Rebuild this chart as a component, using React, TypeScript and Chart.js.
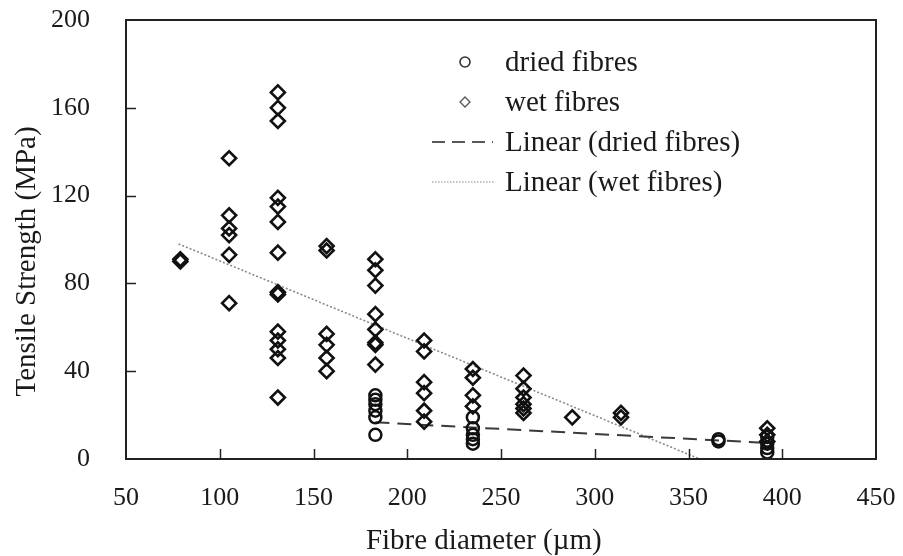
import React, { useEffect, useRef } from "react";
import { Chart, registerables } from "chart.js";

Chart.register(...registerables);

// ---- data ----
const wetDiameters = [79, 105, 131, 157, 183, 209, 235, 262, 288, 314, 392];
const wetStrength = [
  [91, 90],
  [137, 111, 105, 102, 93, 71],
  [167, 160, 154, 119, 115, 108, 94, 76, 75, 58, 54, 50, 46, 28],
  [97, 95, 57, 52, 46, 40],
  [91, 86, 79, 66, 59, 53, 52, 43],
  [54, 49, 35, 30, 22, 17],
  [41, 37, 29, 24],
  [38, 32, 28, 25, 23, 21],
  [19],
  [21, 19],
  [14, 11, 8],
];
const driedDiameters = [183, 235, 366, 392];
const driedStrength = [
  [29, 27, 25, 22, 19, 11],
  [19, 14, 11, 9, 7],
  [9, 8],
  [10, 7, 5, 3],
];
const driedTrendX = [183, 392];
const driedTrendY = [16.7, 7.3];
const wetTrendX = [78, 356];
const wetTrendY = [98, 0];

const xTicks = [50, 100, 150, 200, 250, 300, 350, 400, 450];
const yTicks = [0, 40, 80, 120, 160, 200];

const legendLabels = ["dried fibres", "wet fibres", "Linear (dried fibres)", "Linear (wet fibres)"];
const xTitle = "Fibre diameter (\u00b5m)";
const yTitle = "Tensile Strength (MPa)";

const toPoints = (xs: number[], ys: number[][]) =>
  xs.flatMap((x, i) => ys[i].map((v) => ({ x, y: v })));
const toLine = (xs: number[], ys: number[]) => xs.map((x, i) => ({ x, y: ys[i] }));

const TEXT_FONT = '29px "Liberation Serif"';
const INK = "#1a1a1a";

const decor = {
  id: "decor",
  afterDraw(chart: any) {
    const { ctx, chartArea } = chart;
    const { left, right, top, bottom } = chartArea;
    const xs = chart.scales.x;
    const ys = chart.scales.y;
    ctx.save();
    // frame
    ctx.strokeStyle = "#222";
    ctx.lineWidth = 2;
    ctx.setLineDash([]);
    ctx.strokeRect(left, top, right - left, bottom - top);
    // inner tick marks
    ctx.lineWidth = 1.5;
    xTicks.slice(1, -1).forEach((t) => {
      const px = Math.round(xs.getPixelForValue(t)) + 0.5;
      ctx.beginPath();
      ctx.moveTo(px, bottom);
      ctx.lineTo(px, bottom - 10);
      ctx.stroke();
    });
    yTicks.slice(1, -1).forEach((t) => {
      const py = Math.round(ys.getPixelForValue(t)) + 0.5;
      ctx.beginPath();
      ctx.moveTo(left, py);
      ctx.lineTo(left + 10, py);
      ctx.stroke();
    });

    // axis titles
    ctx.fillStyle = INK;
    ctx.font = TEXT_FONT;
    ctx.textAlign = "center";
    ctx.textBaseline = "middle";
    ctx.fillText(xTitle, left + (right - left) * 0.477, bottom + 82);
    ctx.save();
    ctx.translate(27, top + (bottom - top) * 0.55);
    ctx.rotate(-Math.PI / 2);
    ctx.fillText(yTitle, 0, 0);
    ctx.restore();

    // legend
    const lx = left + (right - left) * 0.452; // marker centre
    const tx = lx + 40;
    const rows = [top + 42, top + 82, top + 122, top + 162];
    ctx.strokeStyle = "#333";
    ctx.lineWidth = 1.6;
    ctx.beginPath();
    ctx.arc(lx, rows[0], 5, 0, Math.PI * 2);
    ctx.stroke();
    ctx.strokeStyle = "#555";
    ctx.lineWidth = 1.3;
    ctx.beginPath();
    ctx.moveTo(lx, rows[1] - 5);
    ctx.lineTo(lx + 5, rows[1]);
    ctx.lineTo(lx, rows[1] + 5);
    ctx.lineTo(lx - 5, rows[1]);
    ctx.closePath();
    ctx.stroke();
    ctx.strokeStyle = "#222";
    ctx.lineWidth = 1.5;
    ctx.setLineDash([13, 7]);
    ctx.beginPath();
    ctx.moveTo(lx - 33, rows[2]);
    ctx.lineTo(lx + 28, rows[2]);
    ctx.stroke();
    ctx.strokeStyle = "#888";
    ctx.lineWidth = 1.2;
    ctx.setLineDash([1.5, 1.5]);
    ctx.beginPath();
    ctx.moveTo(lx - 33, rows[3]);
    ctx.lineTo(lx + 30, rows[3]);
    ctx.stroke();
    ctx.setLineDash([]);
    ctx.textAlign = "left";
    legendLabels.forEach((lab, i) => ctx.fillText(lab, tx, rows[i] + 1));
    ctx.restore();
  },
};

export default function App() {
  const ref = useRef<HTMLCanvasElement>(null);
  useEffect(() => {
    if (!ref.current) return;
    const chart = new Chart(ref.current, {
      type: "scatter",
      data: {
        datasets: [
          {
            label: legendLabels[0],
            data: toPoints(driedDiameters, driedStrength),
            pointStyle: "circle",
            pointRadius: 6,
            pointBorderWidth: 2.5,
            borderColor: "#111",
            backgroundColor: "rgba(0,0,0,0)",
          },
          {
            label: legendLabels[1],
            data: toPoints(wetDiameters, wetStrength),
            pointStyle: "rectRot",
            pointRadius: 7,
            pointBorderWidth: 2.6,
            borderColor: "#111",
            backgroundColor: "rgba(0,0,0,0)",
          },
          {
            label: legendLabels[2],
            data: toLine(driedTrendX, driedTrendY),
            showLine: true,
            pointRadius: 0,
            borderColor: "#3a3a3a",
            borderWidth: 2,
            borderDash: [14, 8],
          },
          {
            label: legendLabels[3],
            data: toLine(wetTrendX, wetTrendY),
            showLine: true,
            pointRadius: 0,
            borderColor: "#8a8a8a",
            borderWidth: 1.6,
            borderDash: [2, 2],
          },
        ],
      },
      options: {
        responsive: false,
        animation: false,
        layout: { padding: { top: 20, right: 27, left: 0, bottom: 0 } },
        plugins: { legend: { display: false }, tooltip: { enabled: false } },
        scales: {
          x: {
            type: "linear",
            min: 50,
            max: 450,
            afterBuildTicks: (s: any) => {
              s.ticks = xTicks.map((v) => ({ value: v }));
            },
            afterFit: (s: any) => {
              s.height = 97;
              s.paddingLeft = 0;
              s.paddingRight = 0;
              s.paddingTop = 0;
              s.paddingBottom = 0;
            },
            grid: { display: false, drawTicks: false },
            border: { display: false },
            ticks: {
              color: INK,
              font: { family: "Liberation Serif", size: 26 },
              padding: 24,
              maxRotation: 0,
            },
          },
          y: {
            type: "linear",
            min: 0,
            max: 200,
            afterBuildTicks: (s: any) => {
              s.ticks = yTicks.map((v) => ({ value: v }));
            },
            afterFit: (s: any) => {
              s.width = 126;
              s.paddingLeft = 0;
              s.paddingRight = 0;
              s.paddingTop = 0;
              s.paddingBottom = 0;
            },
            grid: { display: false, drawTicks: false },
            border: { display: false },
            ticks: {
              color: INK,
              font: { family: "Liberation Serif", size: 26 },
              padding: 36,
            },
          },
        },
      },
      plugins: [decor],
    });
    return () => chart.destroy();
  }, []);
  return (
    <div style={{ position: "fixed", left: 0, top: 0, width: 903, height: 556, background: "#fff" }}>
      <canvas ref={ref} width={903} height={556} />
    </div>
  );
}
